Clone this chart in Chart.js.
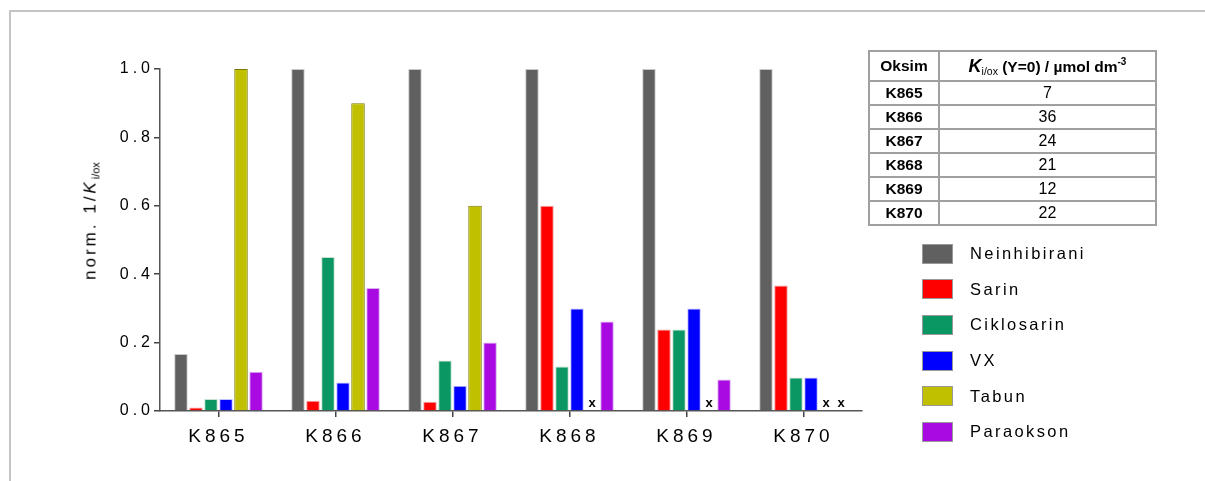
<!DOCTYPE html>
<html>
<head>
<meta charset="utf-8">
<script src="https://cdn.jsdelivr.net/npm/chart.js@4"></script>
<style>
  html, body { margin: 0; padding: 0; background: #fff; }
  #wrap { position: relative; width: 1205px; height: 481px; overflow: hidden; font-family: "Liberation Sans", Arial, sans-serif; }
  #frame { position: absolute; left: 9px; top: 10px; width: 1300px; height: 600px; border-left: 2px solid #c4c4c4; border-top: 2px solid #c4c4c4; }
  #cv { position: absolute; left: 0; top: 0; }
  #ytitle { position: absolute; left: 91px; top: 221px; transform: translate(-50%, -50%) rotate(-90deg); white-space: nowrap; font-size: 17px; letter-spacing: 3px; color: #000; }
  #ytitle sub { font-size: 11px; letter-spacing: 0; vertical-align: -4px; }
  table#kt { position: absolute; left: 868px; top: 50px; width: 289px; border-collapse: collapse; font-size: 16px; }
  #kt td, #kt th { border: 2px solid #a0a0a0; padding: 0; height: 22px; text-align: center; }
  #kt th { height: 28px; font-weight: bold; font-size: 15.5px; }
  #kt td.k { font-weight: bold; width: 68px; font-size: 15.5px; }
  #kt sub { font-size: 10.5px; font-weight: normal; vertical-align: -3px; }
  #kt sup { font-size: 10px; vertical-align: 7px; }
  #legend { position: absolute; left: 922px; top: 236px; }
  .li { display: flex; align-items: center; height: 35.6px; }
  .sw { width: 31px; height: 20px; border: 1px solid #999; box-sizing: border-box; margin-right: 17px; }
  .lt { font-size: 16.5px; letter-spacing: 2.4px; }
</style>
</head>
<body>
<div id="wrap">
  <div id="frame"></div>
  <canvas id="cv" width="1205" height="481"></canvas>
  <div id="ytitle">norm. 1/<i>K</i><sub>i/ox</sub></div>
  <table id="kt"></table>
  <div id="legend"></div>
</div>
<script>
const categories = ["K865", "K866", "K867", "K868", "K869", "K870"];
const seriesNames = ["Neinhibirani", "Sarin", "Ciklosarin", "VX", "Tabun", "Paraokson"];
const neinhibirani = [0.167, 1.0, 1.0, 1.0, 1.0, 1.0];
const sarin        = [0.010, 0.030, 0.027, 0.600, 0.238, 0.367];
const ciklosarin   = [0.035, 0.450, 0.148, 0.130, 0.238, 0.098];
const vx           = [0.035, 0.083, 0.074, 0.300, 0.300, 0.098];
const tabun        = [1.0, 0.900, 0.600, null, null, null];
const paraokson    = [0.115, 0.360, 0.200, 0.262, 0.092, null];
const yTicks = [0.0, 0.2, 0.4, 0.6, 0.8, 1.0];
const tableHeader = ["Oksim", "K", "i/ox", " (Y=0) / µmol dm", "-3"];
const kiValues = [7, 36, 24, 21, 12, 22];

const colors = ["#606060", "#ff0000", "#0b9763", "#0000ff", "#c0c000", "#aa0ae2"];
const borders = ["#c8c8c8", "#f0a0a0", "#c8e0d0", "#c0c0ff", "#7a7a00", "#d8b0f0"];
const allData = [neinhibirani, sarin, ciklosarin, vx, tabun, paraokson];

// table
const kt = document.getElementById('kt');
let html = '<tr><th>' + tableHeader[0] + '</th><th><i style="font-size:18px">' + tableHeader[1] + '</i><sub>' + tableHeader[2] + '</sub>' + tableHeader[3] + '<sup>' + tableHeader[4] + '</sup></th></tr>';
categories.forEach((c, i) => { html += '<tr><td class="k">' + c + '</td><td>' + kiValues[i] + '</td></tr>'; });
kt.innerHTML = html;

// legend
const lg = document.getElementById('legend');
seriesNames.forEach((n, i) => {
  const d = document.createElement('div'); d.className = 'li';
  d.innerHTML = '<div class="sw" style="background:' + colors[i] + '"></div><span class="lt">' + n + '</span>';
  lg.appendChild(d);
});

const LS = '4px';
const spacing = {
  id: 'spacing',
  beforeLayout(chart) { chart.ctx.letterSpacing = LS; },
  beforeDraw(chart) { chart.ctx.letterSpacing = LS; }
};

const missing = {
  id: 'missing',
  afterDatasetsDraw(chart) {
    const ctx = chart.ctx;
    const xs = chart.scales.x, ys = chart.scales.y;
    ctx.save();
    ctx.letterSpacing = '0px';
    ctx.font = 'bold 13px "Liberation Sans", Arial, sans-serif';
    ctx.fillStyle = '#000';
    ctx.textAlign = 'center';
    ctx.textBaseline = 'alphabetic';
    const nds = chart.data.datasets.length;
    chart.data.datasets.forEach((ds, di) => {
      ds.data.forEach((v, j) => {
        if (v === null) {
          const catW = xs.width / categories.length;
          const groupW = catW * 0.77;
          const slot = groupW / nds;
          const cx = xs.getPixelForValue(j) - groupW / 2 + slot * (di + 0.5);
          ctx.fillText('x', cx, ys.getPixelForValue(0) - 4);
        }
      });
    });
    ctx.restore();
  }
};

new Chart(document.getElementById('cv'), {
  type: 'bar',
  data: {
    labels: categories,
    datasets: seriesNames.map((n, i) => ({
      label: n,
      data: allData[i],
      backgroundColor: colors[i],
      borderColor: borders[i],
      borderWidth: 1,
      categoryPercentage: 0.77,
      barPercentage: 0.9
    }))
  },
  options: {
    responsive: false,
    animation: false,
    devicePixelRatio: 1,
    layout: { padding: { left: 100, right: 343, top: 69, bottom: 20 } },
    plugins: { legend: { display: false }, tooltip: { enabled: false } },
    scales: {
      x: {
        afterFit(s) { s.height = 50; },
        grid: { display: true, offset: false, drawOnChartArea: false, drawTicks: true, tickLength: 6, color: '#444', lineWidth: 1.5 },
        border: { color: '#555', width: 1.5 },
        ticks: { color: '#000', font: { family: '"Liberation Sans", Arial, sans-serif', size: 19 }, padding: 8 }
      },
      y: {
        min: 0, max: 1.0,
        afterFit(s) { s.width = 60; },
        afterBuildTicks(s) { s.ticks = yTicks.map(v => ({ value: v })); },
        grid: { display: true, drawOnChartArea: false, drawTicks: true, tickLength: 6, color: '#444', lineWidth: 1.5 },
        border: { color: '#555', width: 1.5 },
        ticks: { color: '#000', font: { family: '"Liberation Sans", Arial, sans-serif', size: 16 }, padding: 0,
          callback: v => Number(v).toFixed(1) }
      }
    }
  },
  plugins: [spacing, missing]
});
</script>
</body>
</html>
